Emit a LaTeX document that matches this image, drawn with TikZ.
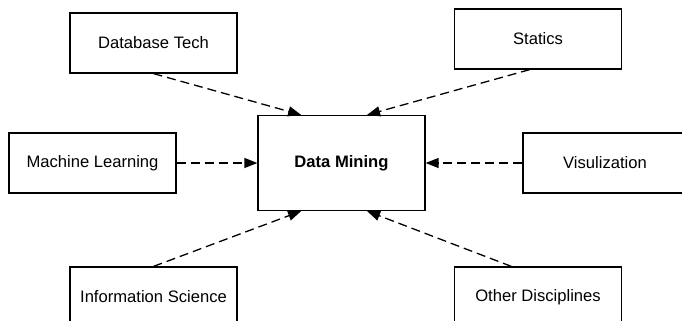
\documentclass[tikz,border=0pt]{standalone}
\usepackage{fontspec}
\setmainfont{Liberation Sans}
\usetikzlibrary{arrows.meta}

\begin{document}
\begin{tikzpicture}[x=0.5pt, y=-0.5pt,
                    box/.style = {draw, line width=0.6pt, inner sep=0pt,
                                  minimum width=83.5pt, minimum height=30pt,
                                  font=\fontsize{8.3}{10}\selectfont},
                    core/.style = {box, minimum height=47.5pt, font=\fontsize{8.3}{10}\selectfont\bfseries},
                    feed/.style = {draw, line width=0.65pt, dash pattern=on 4.5pt off 2.5pt,
                                   -{Triangle[length=6.5pt, width=5pt]}}]
                    \clip (0,0) rectangle (682,321);

                    \node[core] (dm) at (341.5,163) {Data Mining};

                    \node[box] (db) at (153.5,43) {Database Tech};
                    \node[box] (st) at (538,39) {Statics};
                    \node[box] (ml) at (92.5,163) {Machine Learning};
                    \node[box, minimum width=82pt] (vi) at (605,163) {Visulization};
                    \node[box] (is) at (153.5,297) {Information Science};
                    \node[box] (od) at (538,297) {Other Disciplines};


                    \draw[feed] (db.south) -- (dm.130);
                    \draw[feed] (st.255) -- (dm.62);
                    \draw[feed] (ml) -- (dm);
                    \draw[feed] (vi) -- (dm);
                    \draw[feed] (is.north) -- (dm.230);
                    \draw[feed] (od.131) -- (dm.298);
                \end{tikzpicture}
\end{document}
